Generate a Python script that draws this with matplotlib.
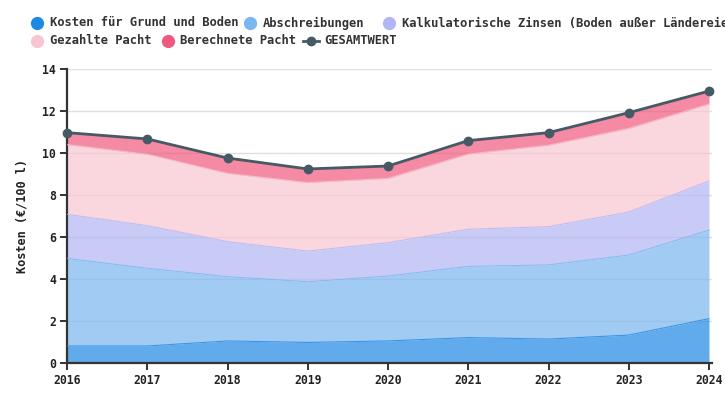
import matplotlib
matplotlib.use("Agg")
import matplotlib.pyplot as plt
from matplotlib.lines import Line2D
import numpy as np

years = [2016, 2017, 2018, 2019, 2020, 2021, 2022, 2023, 2024]
grund = [0.81, 0.81, 1.05, 0.98, 1.05, 1.21, 1.14, 1.33, 2.11]
abschreibungen = [4.17, 3.70, 3.06, 2.89, 3.09, 3.39, 3.53, 3.81, 4.22]
zinsen = [2.10, 2.03, 1.67, 1.46, 1.59, 1.77, 1.82, 2.05, 2.34]
gezahlte = [3.32, 3.40, 3.25, 3.26, 3.06, 3.58, 3.88, 3.98, 3.66]
berechnete = [0.57, 0.73, 0.73, 0.65, 0.59, 0.64, 0.60, 0.75, 0.62]
gesamt = [10.97, 10.67, 9.76, 9.24, 9.38, 10.59, 10.97, 11.92, 12.95]

labels = ["Kosten für Grund und Boden", "Abschreibungen",
          "Kalkulatorische Zinsen (Boden außer Ländereien)",
          "Gezahlte Pacht", "Berechnete Pacht"]
colors = ["#1e88e5", "#7ab6ef", "#b3b6f5", "#f8c5d1", "#f0587e"]
gesamt_label = "GESAMTWERT"
gesamt_color = "#455a64"

FONT = "DejaVu Sans Mono"
plt.rcParams['font.family'] = [FONT, 'DejaVu Sans']
plt.rcParams['font.weight'] = 'bold'

W, H = 725, 400
fig = plt.figure(figsize=(W / 100, H / 100), dpi=100)
ax = fig.add_axes([67 / W, 37 / H, (712 - 67) / W, (363 - 69) / H])

series = [grund, abschreibungen, zinsen, gezahlte, berechnete]
base = np.zeros(len(years))
for vals, c in zip(series, colors):
    top = base + np.array(vals)
    ax.fill_between(years, base, top, color=c, alpha=0.7, linewidth=0, zorder=2)
    ax.plot(years, top, color=c, alpha=0.8, linewidth=0.8, zorder=3)
    base = top

ax.plot(years, gesamt, color=gesamt_color, linewidth=2.0, marker='o',
        markersize=6, zorder=5, clip_on=False)

ax.set_xlim(2016, 2024 + 3 / 80.25)
ax.set_ylim(0, 14)
ax.set_yticks(range(0, 15, 2))
ax.set_xticks(years)
ax.grid(axis='y', color='#e0e0e0', linewidth=1, zorder=1)
ax.set_axisbelow(True)
for s in ['top', 'right']:
    ax.spines[s].set_visible(False)
for s in ['left', 'bottom']:
    ax.spines[s].set_color('#333333')
    ax.spines[s].set_linewidth(1.6)
ax.tick_params(axis='both', direction='out', length=5, width=1.4, color='#333333',
               labelsize=8.3, labelcolor='#222222', pad=3)
for lab in ax.get_xticklabels() + ax.get_yticklabels():
    lab.set_fontweight('bold')
ax.set_ylabel("Kosten (€/100 l)", fontsize=8.6, fontweight='bold', color='#222222',
              labelpad=10)

# legend (manual flow layout, pixel coordinates from top-left)
def px(x, y):
    return x / W, 1 - y / H

fs = 8.7
items = [
    (37, 23, 50, labels[0], colors[0]),
    (250, 23, 263, labels[1], colors[1]),
    (389, 23, 402, labels[2], colors[2]),
    (37, 41, 50, labels[3], colors[3]),
    (167.5, 41, 180.5, labels[4], colors[4]),
]
for mx, my, tx, txt, c in items:
    x0, y0 = px(mx, my)
    fig.add_artist(Line2D([x0], [y0], marker='o', markersize=8.5, color=c,
                          linestyle='none', transform=fig.transFigure))
    tx0, ty0 = px(tx, my)
    fig.text(tx0, ty0, txt, fontsize=fs, fontweight='bold', color='#333333',
             va='center', ha='left')
xa, ya = px(303, 41)
xb, _ = px(319, 41)
xm, _ = px(311, 41)
fig.add_artist(Line2D([xa, xb], [ya, ya], color=gesamt_color, linewidth=2,
                      transform=fig.transFigure))
fig.add_artist(Line2D([xm], [ya], marker='o', markersize=6, color=gesamt_color,
                      linestyle='none', transform=fig.transFigure))
tx0, ty0 = px(324, 41)
fig.text(tx0, ty0, gesamt_label, fontsize=fs, fontweight='bold', color='#333333',
         va='center', ha='left')

fig.savefig("out.png", dpi=100)
